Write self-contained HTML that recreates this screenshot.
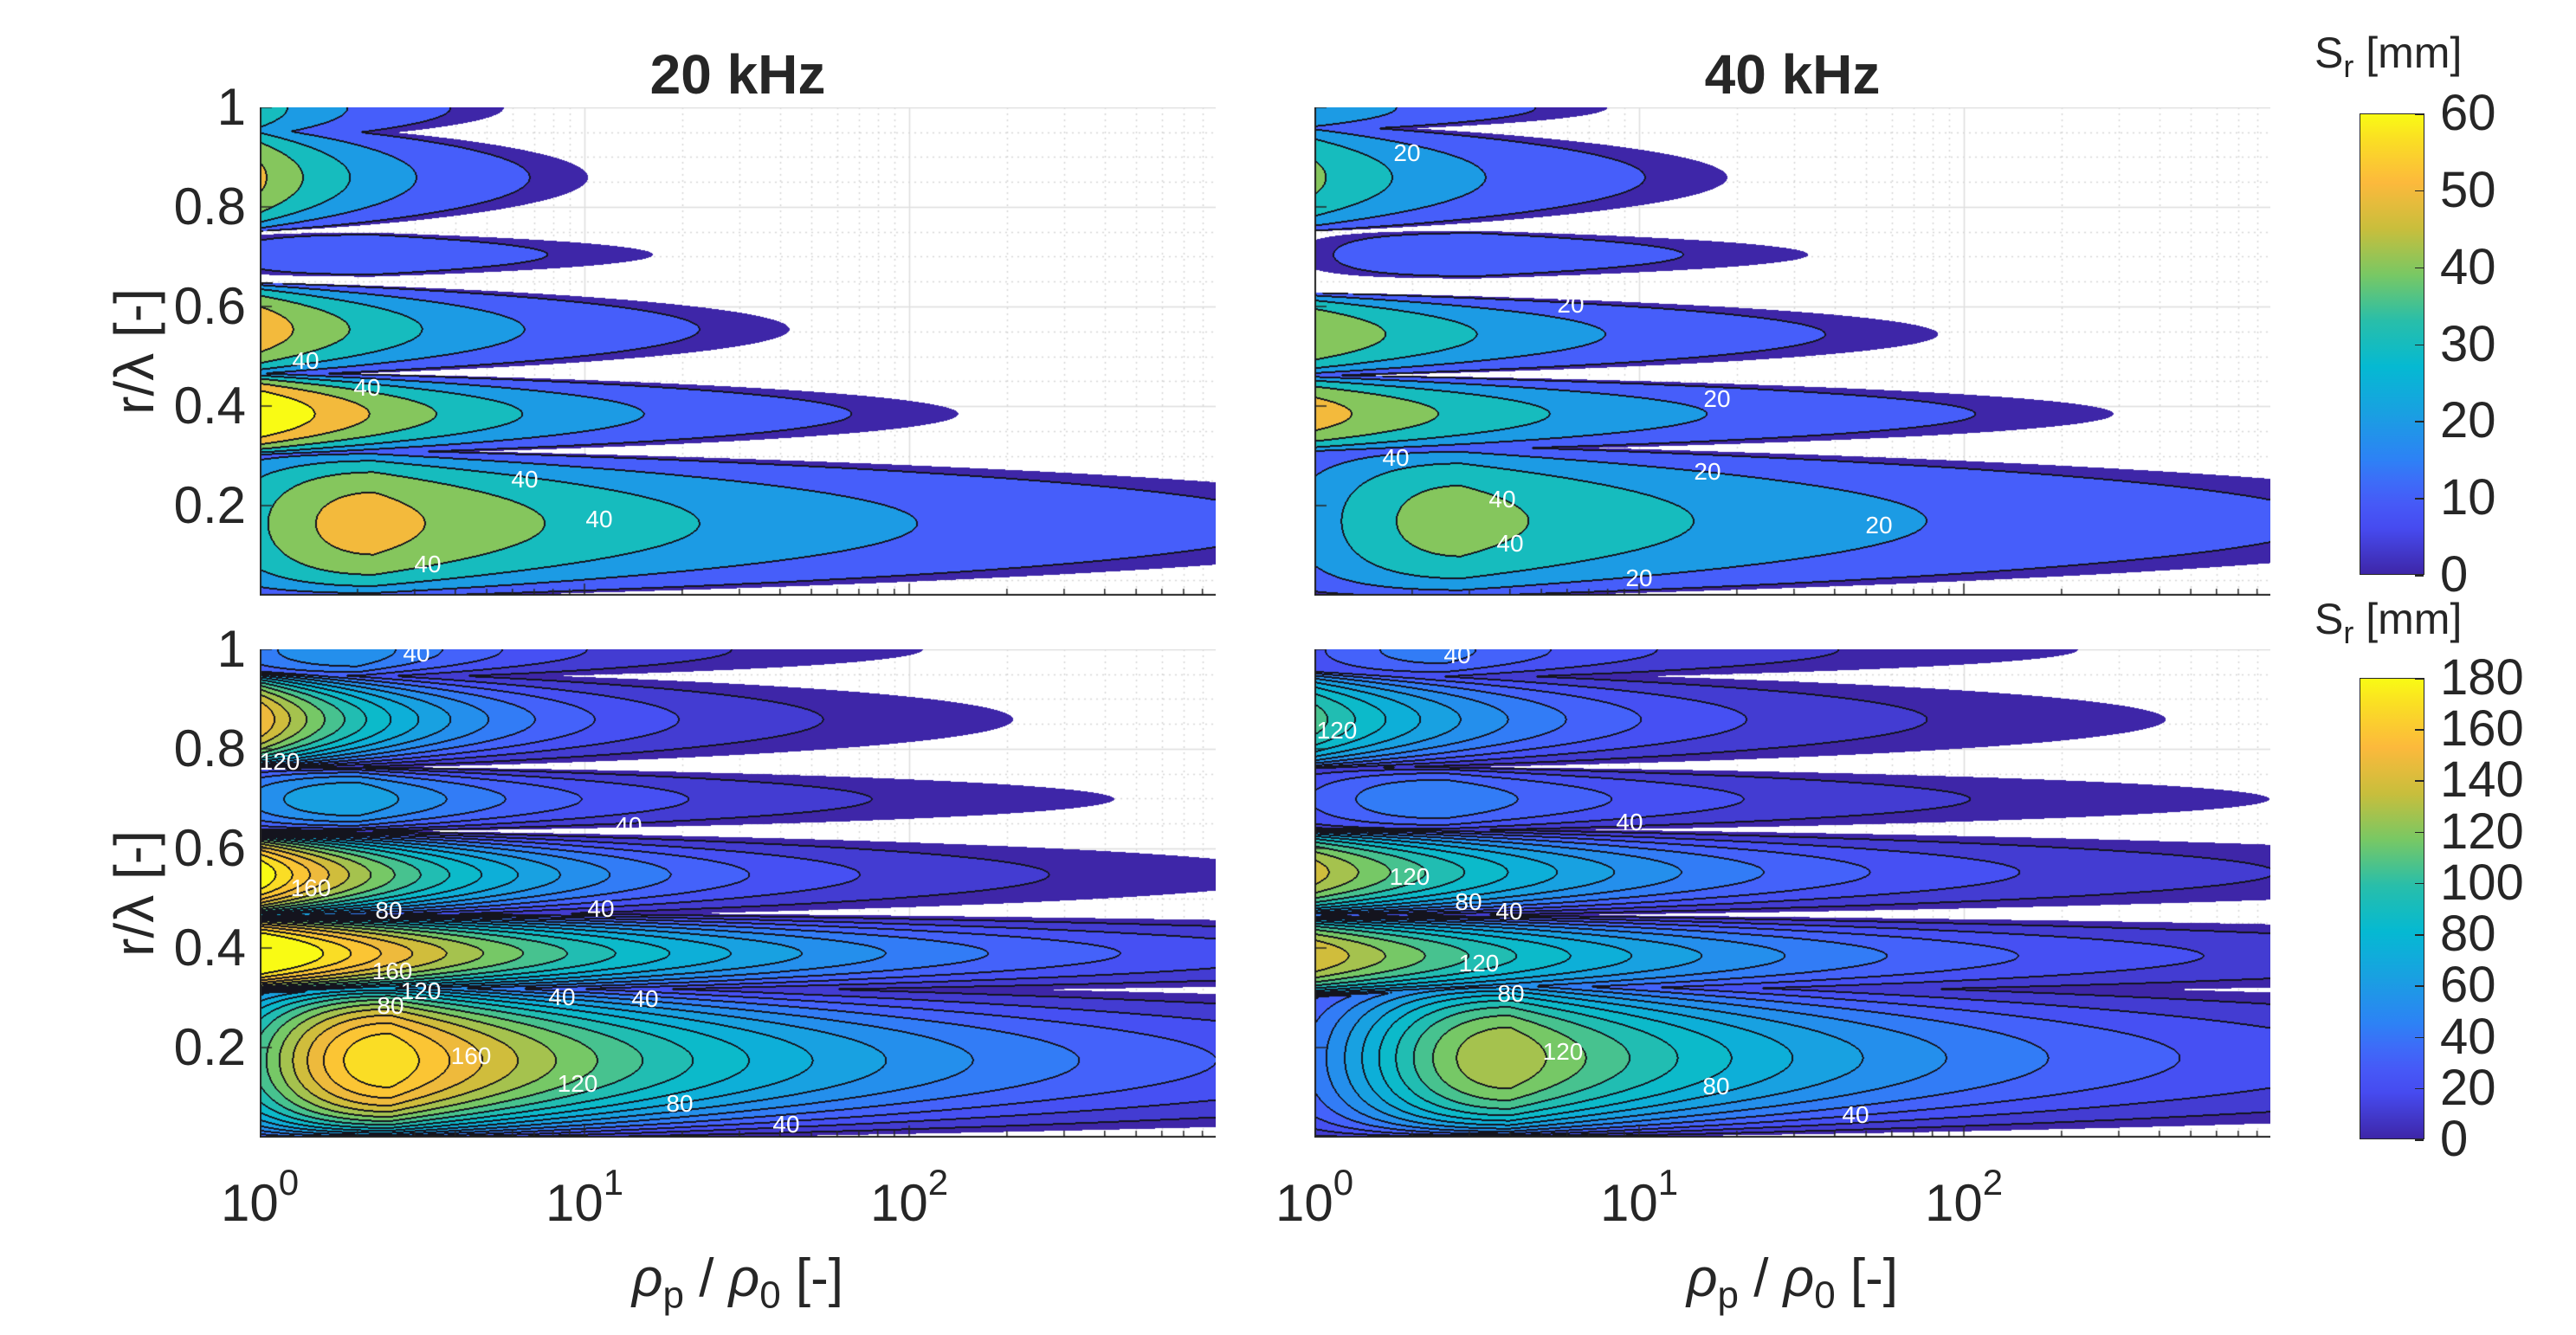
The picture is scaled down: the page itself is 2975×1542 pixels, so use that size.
<!DOCTYPE html>
<html><head><meta charset="utf-8">
<style>
html,body{margin:0;padding:0;background:#fff;}
#chart{position:relative;width:2975px;height:1542px;overflow:hidden;background:#fff;font-family:"Liberation Sans",sans-serif;color:#262626;}
canvas{position:absolute;}
.t{position:absolute;white-space:nowrap;line-height:1;}
.yt{font-size:60px;transform:translate(-100%,-50%);}
.xt{font-size:60px;transform:translateX(-50%);}
.xt sup{font-size:42px;vertical-align:0;position:relative;top:-30px;}
.cl{position:absolute;color:#fff;font-size:28px;transform:translate(-50%,-50%);line-height:1;}
.cbt{font-size:58px;transform:translateY(-50%);}
.cb{position:absolute;border:1.5px solid #262626;box-sizing:border-box;}
</style></head><body>
<div id="chart">
<canvas id="p0" width="1104" height="564" style="left:300px;top:124px"></canvas>
<canvas id="p1" width="1104" height="564" style="left:1518px;top:124px"></canvas>
<canvas id="p2" width="1104" height="564" style="left:300px;top:750px"></canvas>
<canvas id="p3" width="1104" height="564" style="left:1518px;top:750px"></canvas>

<div class="t" style="left:852px;top:54px;font-size:64px;font-weight:bold;transform:translateX(-50%)">20 kHz</div>
<div class="t" style="left:2070px;top:54px;font-size:64px;font-weight:bold;transform:translateX(-50%)">40 kHz</div>

<div class="t" style="left:155px;top:406px;font-size:64px;transform:translate(-50%,-50%) rotate(-90deg)">r/λ [-]</div>
<div class="t" style="left:155px;top:1032px;font-size:64px;transform:translate(-50%,-50%) rotate(-90deg)">r/λ [-]</div>

<div class="t" style="left:852px;top:1446px;font-size:62px;transform:translateX(-50%)"><i>ρ</i><sub style="font-size:44px">p</sub> / <i>ρ</i><sub style="font-size:44px">0</sub> [-]</div>
<div class="t" style="left:2070px;top:1446px;font-size:62px;transform:translateX(-50%)"><i>ρ</i><sub style="font-size:44px">p</sub> / <i>ρ</i><sub style="font-size:44px">0</sub> [-]</div>

<div class="t" style="left:2673px;top:36px;font-size:50px">S<sub style="font-size:36px">r</sub> [mm]</div>
<div class="t" style="left:2673px;top:690px;font-size:50px">S<sub style="font-size:36px">r</sub> [mm]</div>
<div id="cb0" class="cb" style="left:2725px;top:131px;width:75px;height:533px"></div>
<div id="cb1" class="cb" style="left:2725px;top:783px;width:75px;height:533px"></div>

<!-- contour labels -->
<div class="cl" style="left:353px;top:417px">40</div>
<div class="cl" style="left:424px;top:448px">40</div>
<div class="cl" style="left:606px;top:554px">40</div>
<div class="cl" style="left:692px;top:600px">40</div>
<div class="cl" style="left:494px;top:652px">40</div>
<div class="cl" style="left:1625px;top:177px">20</div>
<div class="cl" style="left:1814px;top:352px">20</div>
<div class="cl" style="left:1983px;top:461px">20</div>
<div class="cl" style="left:1972px;top:545px">20</div>
<div class="cl" style="left:2170px;top:607px">20</div>
<div class="cl" style="left:1893px;top:668px">20</div>
<div class="cl" style="left:1735px;top:577px">40</div>
<div class="cl" style="left:1744px;top:628px">40</div>
<div class="cl" style="left:1612px;top:529px">40</div>
<div class="cl" style="left:481px;top:755px">40</div>
<div class="cl" style="left:726px;top:954px">40</div>
<div class="cl" style="left:323px;top:880px">120</div>
<div class="cl" style="left:359px;top:1026px">160</div>
<div class="cl" style="left:449px;top:1052px">80</div>
<div class="cl" style="left:694px;top:1050px">40</div>
<div class="cl" style="left:453px;top:1122px">160</div>
<div class="cl" style="left:486px;top:1145px">120</div>
<div class="cl" style="left:451px;top:1162px">80</div>
<div class="cl" style="left:649px;top:1152px">40</div>
<div class="cl" style="left:745px;top:1154px">40</div>
<div class="cl" style="left:544px;top:1220px">160</div>
<div class="cl" style="left:667px;top:1252px">120</div>
<div class="cl" style="left:785px;top:1275px">80</div>
<div class="cl" style="left:908px;top:1299px">40</div>
<div class="cl" style="left:1683px;top:757px">40</div>
<div class="cl" style="left:1544px;top:844px">120</div>
<div class="cl" style="left:1882px;top:950px">40</div>
<div class="cl" style="left:1628px;top:1013px">120</div>
<div class="cl" style="left:1696px;top:1042px">80</div>
<div class="cl" style="left:1743px;top:1053px">40</div>
<div class="cl" style="left:1708px;top:1113px">120</div>
<div class="cl" style="left:1745px;top:1148px">80</div>
<div class="cl" style="left:1805px;top:1215px">120</div>
<div class="cl" style="left:1982px;top:1255px">80</div>
<div class="cl" style="left:2143px;top:1288px">40</div>
</div>
<script>
// ---- data ----
const rTicks = [0.2, 0.4, 0.6, 0.8, 1];
const xTickExp = [0, 1, 2];
const cbTopTicks = [0, 10, 20, 30, 40, 50, 60];
const cbBottomTicks = [0, 20, 40, 60, 80, 100, 120, 140, 160, 180];
// lobes: [top-edge, A, B, C, D, E]
const p0Center = [1.0, 0.86, 0.705, 0.555, 0.385, 0.165];
const p0Width  = [0.07, 0.11, 0.048, 0.095, 0.085, 0.15];
const p0Peak   = [36, 52, 18, 57, 72, 55];
const p0PeakU  = [0, 0, 0.35, 0, 0, 0.35];
const p0Tip    = [0.75, 1.01, 1.21, 1.63, 2.15, 3.76];

const p1Center = [1.0, 0.86, 0.705, 0.545, 0.385, 0.17];
const p1Width  = [0.05, 0.11, 0.052, 0.085, 0.08, 0.155];
const p1Peak   = [30, 42, 18, 50, 55, 45];
const p1PeakU  = [0, 0, 0.5, 0, 0, 0.45];
const p1Tip    = [0.9, 1.27, 1.52, 1.92, 2.46, 3.74];

const p2Center = [1.0, 0.86, 0.70, 0.548, 0.39, 0.175];
const p2Width  = [0.06, 0.10, 0.065, 0.09, 0.085, 0.16];
const p2Peak   = [60, 150, 70, 180, 195, 170];
const p2PeakU  = [0.3, 0, 0.3, 0, 0, 0.4];
const p2Tip    = [2.04, 2.32, 2.63, 3.2, 5.5, 5.9];

const p3Center = [1.0, 0.86, 0.70, 0.553, 0.385, 0.18];
const p3Width  = [0.06, 0.10, 0.065, 0.09, 0.085, 0.16];
const p3Peak   = [45, 105, 50, 135, 140, 130];
const p3PeakU  = [0.4, 0, 0.4, 0, 0, 0.6];
const p3Tip    = [2.35, 2.62, 2.94, 4.0, 5.0, 5.5];

const parula = [[0,62,38,168],[0.1,70,75,240],[0.17,70,95,250],[0.25,45,130,245],[0.35,25,160,225],[0.45,5,185,210],[0.55,40,190,170],[0.65,120,200,100],[0.75,200,190,60],[0.85,252,185,60],[0.93,250,215,40],[1,249,251,20]];

const DEC = 375, RS = 575;
function cmap(t){
  t=Math.max(0,Math.min(1,t));
  for(let i=1;i<parula.length;i++){
    if(t<=parula[i][0]){const a=parula[i-1],b=parula[i];const f=(t-a[0])/(b[0]-a[0]);
      return [a[1]+f*(b[1]-a[1]),a[2]+f*(b[2]-a[2]),a[3]+f*(b[3]-a[3])];}
  }
  return parula[parula.length-1].slice(1);
}
function xScale(u){return u*DEC;}
function yScale(r){return (1-r)*RS;}

function drawPanel(cv, rc, hw, pk, up, tip, step, nb, tEnd){
  const W=cv.width,H=cv.height,ctx=cv.getContext('2d');
  ctx.fillStyle='#fff';ctx.fillRect(0,0,W,H);
  ctx.lineWidth=1.5;
  for(let dec=0;dec<3;dec++){for(let m=1;m<10;m++){
    const x=xScale(dec+Math.log10(m)); if(x>=W)continue;
    ctx.strokeStyle=m===1?'#dedede':'#d6d6d6'; ctx.setLineDash(m===1?[]:[2,5]);
    ctx.beginPath();ctx.moveTo(Math.round(x)+0.5,0);ctx.lineTo(Math.round(x)+0.5,H);ctx.stroke();}}
  for(let k=1;k<=20;k++){const r=k*0.05;const y=yScale(r);if(y<0||y>H)continue;
    const major=(k%4===0);ctx.strokeStyle=major?'#dedede':'#d6d6d6';ctx.setLineDash(major?[]:[2,5]);
    ctx.beginPath();ctx.moveTo(0,Math.round(y)+0.5);ctx.lineTo(W,Math.round(y)+0.5);ctx.stroke();}
  ctx.setLineDash([]);
  const img=ctx.getImageData(0,0,W,H),D=img.data;
  const band=new Int8Array(W*H);
  const a=rc.map((_,i)=>Math.log(pk[i]/tEnd)/(tip[i]-up[i]));
  for(let py=0;py<H;py++){const r=1-py/RS;
    for(let px=0;px<W;px++){const u=px/DEC;let v=0;
      for(let i=0;i<rc.length;i++){const d=(r-rc[i])/hw[i];if(d*d>=1)continue;
        const g=1-d*d;const sg=Math.sqrt(g);const du=u-up[i];
        const h=du>0?Math.exp(-a[i]*du/sg):Math.exp(-3*du*du);
        const val=pk[i]*sg*h;if(val>v)v=val;}
      band[py*W+px]=v<tEnd?-1:Math.min(nb-1,Math.floor(v/step));}}
  const line=new Uint8Array(W*H);
  for(let py=0;py<H;py++)for(let px=0;px<W;px++){const i=py*W+px,b=band[i];if(b<0)continue;
    if(px+1<W){const n=band[i+1];if(n>=0&&n!==b){line[i]=1;line[i+1]=1;}}
    if(py+1<H){const n=band[i+W];if(n>=0&&n!==b){line[i]=1;line[i+W]=1;}}}
  const cols=[];for(let k=0;k<nb;k++)cols.push(cmap(k/(nb-1)));
  for(let i=0;i<W*H;i++){const b=band[i];if(b<0)continue;
    const c=line[i]?[20,20,30]:cols[b];D[4*i]=c[0];D[4*i+1]=c[1];D[4*i+2]=c[2];D[4*i+3]=255;}
  ctx.putImageData(img,0,0);
  ctx.strokeStyle='#262626';ctx.lineWidth=2;
  ctx.beginPath();ctx.moveTo(1,0);ctx.lineTo(1,H);ctx.moveTo(0,H-1);ctx.lineTo(W,H-1);ctx.stroke();
  ctx.lineWidth=1.5;
  for(let dec=0;dec<3;dec++){for(let m=1;m<10;m++){const x=xScale(dec+Math.log10(m));if(x>=W)continue;
    const L=m===1?14:8;ctx.beginPath();ctx.moveTo(x,H);ctx.lineTo(x,H-L);ctx.stroke();}}
  rTicks.forEach(r=>{const y=yScale(r);ctx.beginPath();ctx.moveTo(0,y);ctx.lineTo(14,y);ctx.stroke();});
}
drawPanel(document.getElementById('p0'),p0Center,p0Width,p0Peak,p0PeakU,p0Tip,10,7,7);
drawPanel(document.getElementById('p1'),p1Center,p1Width,p1Peak,p1PeakU,p1Tip,10,7,7);
drawPanel(document.getElementById('p2'),p2Center,p2Width,p2Peak,p2PeakU,p2Tip,10,18,4);
drawPanel(document.getElementById('p3'),p3Center,p3Width,p3Peak,p3PeakU,p3Tip,10,18,4);

const chart=document.getElementById('chart');
[124,750].forEach(top=>{rTicks.forEach(r=>{
  const el=document.createElement('div');el.className='t yt';
  
  
  el.style.left='284px';el.style.top=(top+yScale(r))+'px';el.textContent=String(r);chart.appendChild(el);});});
[300,1518].forEach(left=>{xTickExp.forEach(e=>{
  const el=document.createElement('div');el.className='t xt';
  
  
  el.style.left=(left+xScale(e))+'px';el.style.top='1360px';el.innerHTML='10<sup>'+e+'</sup>';chart.appendChild(el);});});
function colorbar(id,ticks,maxV,top){
  const cb=document.getElementById(id);const stops=[];
  for(let k=0;k<=20;k++){const c=cmap(k/20);stops.push('rgb('+c.map(Math.round).join(',')+') '+(k*5)+'%');}
  cb.style.background='linear-gradient(to top,'+stops.join(',')+')';
  ticks.forEach(v=>{const y=top+533-v/maxV*533;
    const tk=document.createElement('div');
    
    
    tk.style.cssText='position:absolute;left:2789px;width:10px;height:1.5px;background:#262626;top:'+y+'px';chart.appendChild(tk);
    const el=document.createElement('div');el.className='t cbt';
    
    
    el.style.left='2818px';el.style.top=y+'px';el.textContent=String(v);chart.appendChild(el);});
}
colorbar('cb0',cbTopTicks,60,131);
colorbar('cb1',cbBottomTicks,180,783);
</script>
</body></html>
